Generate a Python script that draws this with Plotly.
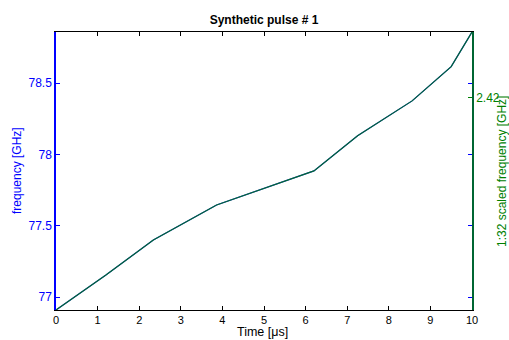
import plotly.graph_objects as go

# Data
time_us = [0, 1.2, 2.34, 3.86, 6.2, 7.25, 8.56, 9.5, 10]
freq_ghz = [76.909, 77.154, 77.40, 77.645, 77.884, 78.13, 78.375, 78.615, 78.858]
scale = 32
scaled_ghz = [f / scale for f in freq_ghz]

x_ticks = list(range(0, 11))
y_ticks = [77, 77.5, 78, 78.5]
y2_tick_vals = [78.40 / scale]
y2_tick_text = ["2.42"]

BLUE = "#0000ff"
GREEN = "#008000"
FONT = "Liberation Sans, Arial, sans-serif"

W, H = 509, 340
L, R, T, B = 56, 472, 32, 310


def px_x(px):
    return (px - L) / (R - L)


def px_y(py):
    return (B - py) / (B - T)


fig = go.Figure()
fig.add_trace(go.Scatter(x=time_us, y=freq_ghz, mode="lines",
                         line=dict(color=BLUE, width=1.2), yaxis="y", showlegend=False))
fig.add_trace(go.Scatter(x=time_us, y=scaled_ghz, mode="lines",
                         line=dict(color="rgba(0,128,0,0.82)", width=1.2), yaxis="y2",
                         showlegend=False))

fmin, fmax = min(freq_ghz), max(freq_ghz)

fig.update_layout(
    width=W, height=H,
    margin=dict(l=L, r=W - R, t=T, b=H - B),
    paper_bgcolor="white", plot_bgcolor="white",
    font=dict(family=FONT, size=12, color="black"),
    title=dict(text="<b>Synthetic pulse # 1</b>", x=(L + R) / 2 / W, xanchor="center",
               y=1 - 20 / H, yanchor="middle", font=dict(size=12, color="black")),
    xaxis=dict(range=[0, 10], tickvals=x_ticks, ticks="inside", ticklen=4,
               tickcolor="black", showline=True, linecolor="black", linewidth=1,
               mirror="ticks", showgrid=False, zeroline=False, automargin=False,
               tickfont=dict(size=11, color="black")),
    yaxis=dict(range=[fmin, fmax], tickvals=y_ticks, ticktext=["77", "77.5", "78", "78.5"],
               ticks="inside", ticklen=4, tickcolor=BLUE, showline=True, linecolor=BLUE,
               linewidth=1.5, mirror="ticks", showgrid=False, zeroline=False, automargin=False,
               tickfont=dict(size=12, color=BLUE)),
    yaxis2=dict(range=[fmin / scale, fmax / scale], overlaying="y", side="right",
                tickvals=y2_tick_vals, ticktext=y2_tick_text, ticks="inside", ticklen=4,
                tickcolor=GREEN, showline=True, linecolor="rgba(0,128,0,0.8)", linewidth=1.5,
                showgrid=False, zeroline=False, automargin=False,
                tickfont=dict(size=12, color=GREEN)),
    annotations=[
        dict(text="Time [μs]", xref="paper", yref="paper", x=px_x(262), y=px_y(340),
             xanchor="center", yanchor="bottom", showarrow=False, borderpad=0,
             font=dict(size=12.5, color="black")),
        dict(text="frequency [GHz]", xref="paper", yref="paper", x=px_x(17), y=px_y(171),
             xanchor="center", yanchor="middle", textangle=-90, showarrow=False,
             font=dict(size=12, color=BLUE)),
        dict(text="1:32 scaled frequency [GHz]", xref="paper", yref="paper", x=px_x(502),
             y=px_y(172), xanchor="center", yanchor="middle", textangle=-90, showarrow=False,
             font=dict(size=12, color=GREEN)),
    ],
)

fig.write_html("out.html")
